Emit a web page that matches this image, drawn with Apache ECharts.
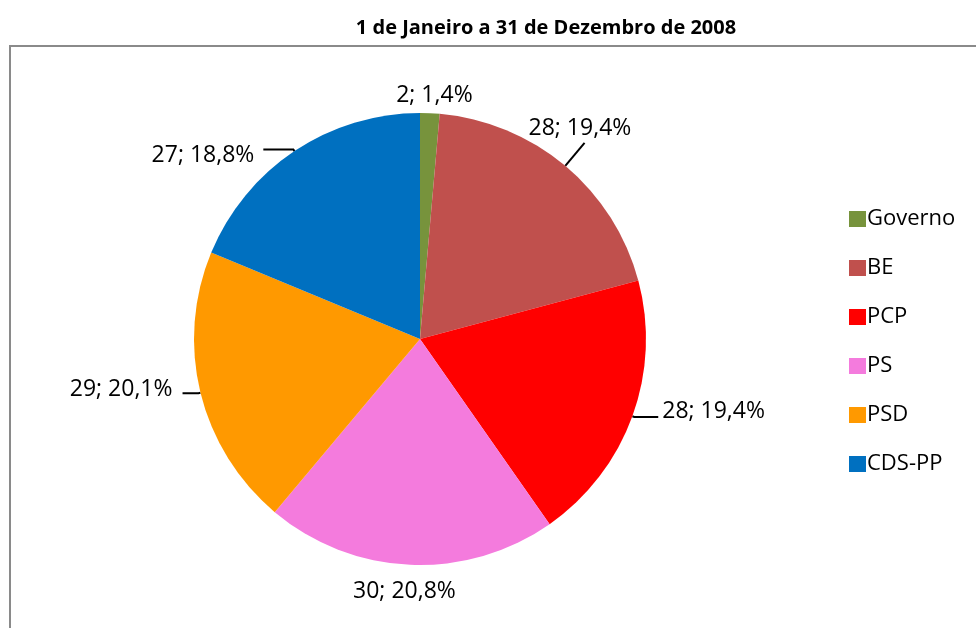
<!DOCTYPE html>
<html>
<head>
<meta charset="utf-8">
<script src="https://cdn.jsdelivr.net/npm/echarts@6/dist/echarts.min.js"></script>
<style>
	html, body { margin: 0; padding: 0; background: #fff; }
	#pieChart { width: 976px; height: 628px; }
</style>
</head>
<body>
<div id="pieChart"></div>
<script>
	// dados do gráfico
	var titulo = "1 de Janeiro a 31 de Dezembro de 2008";
	var partidos = ["Governo", "BE", "PCP", "PS", "PSD", "CDS-PP"];
	var valores = [2, 28, 28, 30, 29, 27];
	var cores = ["#77933C", "#C0504D", "#FF0000", "#F47BDD", "#FF9900", "#0070C0"];

	// linhas dos rótulos (comprimento radial, horizontal, visível)
	var linhas = [
		[8, 0, false],
		[30, 0, true],
		[2, 24, true],
		[8, 0, false],
		[2, 16, true],
		[2, 30, true]
	];
	// pequenos ajustes dos rótulos, como no Excel
	var ajustes = [
		[-38, -10],
		[-60, -14],
		[0, -6],
		[50, 19],
		[-6, -4],
		[-5, 6]
	];

	var total = 0;
	for (let i = 0; i < valores.length; i++) {
		total += valores[i];
	}

	var fonte = "'Open Sans', 'Liberation Sans', sans-serif";

	var data = [];
	for (let i = 0; i < partidos.length; i++) {
		data.push({
			name: partidos[i],
			value: valores[i],
			itemStyle: { color: cores[i] },
			labelLine: {
				show: linhas[i][2],
				length: linhas[i][0],
				length2: linhas[i][1]
			}
		});
	}

	var option = {
		animation: false,
		title: {
			text: titulo,
			left: 541,
			textAlign: "center",
			top: 13,
			textStyle: {
				fontFamily: fonte,
				fontSize: 20,
				fontWeight: "bold",
				color: "#000"
			}
		},
		graphic: [{
			type: "rect",
			shape: { x: 10, y: 46, width: 1000, height: 700 },
			style: { fill: "none", stroke: "#8a8a8a", lineWidth: 2 },
			silent: true
		}],
		legend: {
			orient: "vertical",
			left: 844,
			top: 202,
			itemWidth: 17,
			itemHeight: 16,
			itemGap: 25,
			icon: "rect",
			textStyle: {
				fontFamily: fonte,
				fontSize: 22,
				lineHeight: 24,
				color: "#000",
				padding: [0, 0, 0, -4]
			},
			data: partidos
		},
		series: [{
			type: "pie",
			center: [420, 339],
			radius: 226,
			startAngle: 90,
			clockwise: true,
			avoidLabelOverlap: false,
			label: {
				show: true,
				position: "outside",
				distanceToLabelLine: 4,
				fontFamily: fonte,
				fontSize: 23,
				color: "#000",
				formatter: function (p) {
					var pct = (p.value / total * 100).toFixed(1).replace(".", ",");
					return p.value + "; " + pct + "%";
				}
			},
			labelLine: {
				lineStyle: { color: "#000", width: 2 },
				smooth: false
			},
			labelLayout: function (params) {
				var a = ajustes[params.dataIndex];
				return { dx: a[0], dy: a[1] };
			},
			itemStyle: { borderColor: "#fff", borderWidth: 0 },
			data: data
		}]
	};

	var myChart = echarts.init(document.getElementById("pieChart"));
	myChart.setOption(option);
</script>
</body>
</html>
